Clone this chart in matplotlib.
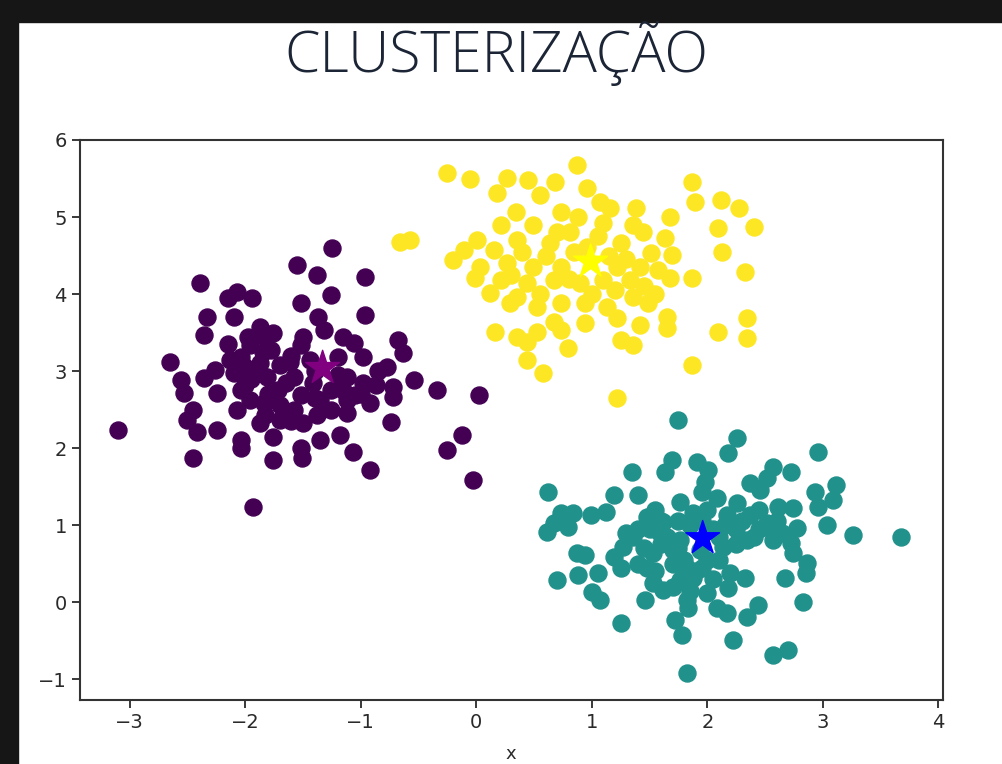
"""
plot.py

Scatter plot of three k-means clusters with their centroids,
drawn on a slide titled "CLUSTERIZAÇÃO".
"""

import matplotlib
matplotlib.use("Agg")
import matplotlib.pyplot as plt
from matplotlib.patches import Rectangle

# cluster 0 (purple)
purple_x = [-1.25, -1.55, -1.38, -0.96, -2.39, -2.07, -1.94, -2.15, -1.26, -1.52,
            -0.96, -2.33, -2.10, -1.37, -2.36, -1.87, -1.76, -1.98, -1.50, -1.32,
            -1.15, -0.68, -1.06, -0.63, -2.65, -2.04, -1.87, -1.61, -0.98, -0.77,
            -1.20, -2.56, -2.36, -2.10, -1.81, -1.58, -1.41, -1.12, -0.98, -0.54,
            -0.72, -0.34, 0.02, -2.53, -2.24, -2.04, -1.72, -0.72, -1.12, -0.92,
            -2.45, -2.07, -1.84, -1.58, -1.38, -1.12, -2.50, -1.87, -1.50, -0.74,
            -3.10, -2.42, -2.24, -2.04, -1.76, -1.35, -1.18, -0.12, -2.04, -1.52,
            -0.25, -2.45, -1.76, -1.51, -1.07, -0.92, -0.03, -1.93,
            -1.96, -1.91, -1.78, -1.70, -2.00, -1.52, -1.44, -1.26, -1.70, -1.96,
            -1.83, -1.26, -1.05, -0.87, -1.52, -2.13, -2.26, -1.70, -1.35,
            -2.00, -1.85, -1.95, -1.65, -1.60, -1.80, -1.40, -1.20, -1.15, -1.40,
            -1.60, -2.15, -1.85, -0.85, -1.00]
purple_y = [4.60, 4.38, 4.25, 4.22, 4.14, 4.03, 3.95, 3.95, 3.99, 3.88,
            3.73, 3.70, 3.70, 3.70, 3.47, 3.57, 3.49, 3.44, 3.44, 3.53,
            3.44, 3.40, 3.36, 3.23, 3.12, 3.18, 3.10, 3.12, 3.18, 3.05,
            3.18, 2.88, 2.91, 2.97, 2.92, 2.92, 2.84, 2.92, 2.84, 2.88,
            2.79, 2.75, 2.69, 2.71, 2.71, 2.75, 2.75, 2.66, 2.62, 2.58,
            2.49, 2.49, 2.58, 2.49, 2.43, 2.45, 2.36, 2.32, 2.32, 2.34,
            2.23, 2.21, 2.23, 2.10, 2.14, 2.10, 2.17, 2.17, 2.00, 2.00,
            1.97, 1.87, 1.84, 1.87, 1.95, 1.71, 1.58, 1.23,
            3.34, 3.01, 3.27, 3.08, 2.82, 2.69, 3.14, 2.75, 2.56, 2.62,
            2.43, 2.49, 2.69, 2.82, 3.34, 3.14, 3.01, 2.36, 2.62,
            3.05, 3.25, 2.90, 2.85, 3.20, 2.70, 3.00, 2.95, 2.75, 2.65,
            2.35, 3.35, 3.45, 3.00, 2.70]

# cluster 1 (teal)
teal_x = [1.75, 2.26, 2.18, 2.96, 1.69, 1.63, 1.91, 2.01, 1.35, 0.62,
          1.19, 1.40, 1.98, 1.95, 2.37, 2.46, 2.57, 2.72, 2.52, 2.93,
          3.11, 3.09, 2.96, 1.76, 2.08, 2.26, 2.61, 2.74, 0.73, 0.84,
          0.99, 1.12, 0.67, 0.61, 0.79, 1.48, 1.62, 1.88, 2.17, 2.37,
          2.52, 2.78, 3.04, 3.26, 3.68, 1.36, 1.59, 1.76, 2.14, 2.34,
          2.57, 2.72, 1.27, 1.53, 1.70, 1.94, 2.74, 2.86, 0.87, 0.94,
          1.19, 1.25, 1.48, 1.82, 2.00, 0.70, 0.88, 1.05, 2.20, 2.33,
          2.67, 2.85, 1.53, 1.76, 1.88, 2.18, 1.00, 1.07, 1.46, 1.62,
          1.82, 2.00, 2.08, 1.83, 2.17, 2.34, 2.44, 2.83, 1.25, 1.72,
          1.78, 2.22, 2.57, 2.70, 1.82,
          1.85, 2.05, 2.25, 2.45, 1.65, 2.10, 1.90, 1.70, 2.45, 2.00,
          1.45, 2.60, 1.55, 1.85, 2.05,
          1.50, 1.60, 1.75, 1.95, 2.15, 2.30, 2.40, 2.25, 2.10, 1.75,
          1.60, 1.40, 1.30, 1.80, 1.95, 2.55, 2.65, 1.70, 1.55, 1.40]
teal_y = [2.36, 2.13, 1.94, 1.95, 1.84, 1.69, 1.82, 1.71, 1.69, 1.43,
          1.39, 1.39, 1.56, 1.43, 1.55, 1.45, 1.75, 1.69, 1.61, 1.43,
          1.52, 1.32, 1.23, 1.30, 1.35, 1.29, 1.23, 1.22, 1.16, 1.16,
          1.13, 1.17, 1.03, 0.91, 0.97, 1.10, 1.04, 1.16, 1.13, 1.13,
          1.03, 0.96, 1.00, 0.87, 0.84, 0.84, 0.90, 0.81, 0.71, 0.81,
          0.81, 0.77, 0.71, 0.64, 0.68, 0.68, 0.64, 0.51, 0.64, 0.61,
          0.58, 0.45, 0.44, 0.45, 0.55, 0.29, 0.35, 0.38, 0.38, 0.32,
          0.31, 0.38, 0.25, 0.29, 0.32, 0.18, 0.13, 0.03, 0.03, 0.16,
          0.03, 0.12, -0.08, -0.08, -0.14, -0.19, -0.04, 0.00, -0.27, -0.23,
          -0.43, -0.49, -0.69, -0.62, -0.92,
          1.00, 0.95, 0.95, 0.95, 0.85, 0.55, 0.40, 0.50, 1.20, 1.20,
          0.70, 1.05, 1.20, 0.15, 0.30,
          0.95, 1.05, 1.05, 1.05, 1.00, 1.05, 0.85, 0.75, 0.85, 0.70,
          0.75, 0.95, 0.90, 0.55, 0.45, 0.95, 0.90, 0.20, 0.40, 0.50]

# cluster 2 (yellow)
yellow_x = [-0.25, -0.05, 0.27, 0.18, 0.45, 0.55, 0.68, 0.87, 0.96, 1.07,
            1.16, 1.38, 1.87, 1.89, 2.12, 2.27, 2.40, 2.09, 1.68, 2.13,
            2.33, -0.57, -0.66, 0.73, 0.88, 0.34, 0.21, 0.49, 0.81, 1.10,
            1.36, 1.44, 1.63, 1.69, 0.01, -0.11, -0.20, 0.15, 0.35, 0.64,
            0.96, 1.25, 1.51, 0.03, 0.27, 0.49, 0.73, 1.22, 1.42, 1.57,
            -0.01, 0.21, 0.44, 0.67, 0.90, 1.10, 1.33, 1.68, 1.87, 0.12,
            0.29, 0.53, 0.73, 0.94, 1.13, 1.36, 1.49, 0.35, 1.22, 0.94,
            0.67, 1.42, 1.65, 1.65, 0.16, 0.35, 0.53, 0.73, 0.79, 0.44,
            0.44, 1.25, 1.36, 2.09, 2.34, 2.34, 1.87, 0.58, 1.22,
            0.85, 1.15, 1.30, 0.60, 0.40, 0.80, 1.20, 1.45, 0.55, 1.00,
            0.30, 1.55, 1.05, 0.70]
yellow_y = [5.57, 5.49, 5.51, 5.31, 5.48, 5.29, 5.45, 5.68, 5.38, 5.19,
            5.12, 5.12, 5.45, 5.19, 5.22, 5.12, 4.87, 4.86, 5.00, 4.55,
            4.29, 4.70, 4.68, 5.06, 5.00, 5.06, 4.90, 4.90, 4.81, 4.92,
            4.90, 4.81, 4.73, 4.51, 4.70, 4.57, 4.44, 4.57, 4.70, 4.66,
            4.61, 4.66, 4.53, 4.35, 4.40, 4.35, 4.35, 4.35, 4.35, 4.31,
            4.21, 4.18, 4.14, 4.18, 4.14, 4.18, 4.18, 4.21, 4.21, 4.01,
            3.88, 3.83, 3.88, 3.88, 3.83, 3.96, 3.88, 3.96, 3.69, 3.62,
            3.64, 3.60, 3.70, 3.56, 3.51, 3.44, 3.51, 3.53, 3.30, 3.38,
            3.14, 3.40, 3.34, 3.51, 3.69, 3.43, 3.08, 2.97, 2.65,
            4.55, 4.50, 4.45, 4.50, 4.55, 4.20, 4.05, 4.10, 4.00, 4.00,
            4.25, 4.00, 4.75, 4.80]

# centroids
centroid_x = [-1.33, 1.96, 0.99]
centroid_y = [3.04, 0.83, 4.42]
centroid_colors = ["purple", "blue", "yellow"]

cluster_colors = ["#440154", "#21918c", "#fde725"]


def plot():
    fig = plt.figure(figsize=(10.02, 7.64), dpi=100, facecolor="white")

    # dark slide frame on the top and left edges
    fig.patches.append(Rectangle((0, 1 - 22 / 764), 1, 22 / 764,
                                 transform=fig.transFigure, color="#161616", zorder=0))
    fig.patches.append(Rectangle((0, 0), 18 / 1002, 1,
                                 transform=fig.transFigure, color="#161616", zorder=0))

    fig.text(0.495, 1 - 53 / 764, "CLUSTERIZAÇÃO", ha="center", va="center",
             fontsize=41, color="#1c2536", family="Open Sans", fontweight="light")

    ax = fig.add_axes([80 / 1002, 1 - 700 / 764, 863 / 1002, 560 / 764])

    clusters = [(purple_x, purple_y), (teal_x, teal_y), (yellow_x, yellow_y)]
    for (xs, ys), color in zip(clusters, cluster_colors):
        ax.scatter(xs, ys, s=150, color=color, zorder=2)

    ax.scatter(centroid_x, centroid_y, marker="*", s=650,
               c=centroid_colors, zorder=3)

    ax.set_xlim(-3.43, 4.04)
    ax.set_ylim(-1.27, 6.0)
    ax.set_xticks([-3, -2, -1, 0, 1, 2, 3, 4])
    ax.set_yticks([-1, 0, 1, 2, 3, 4, 5, 6])
    ax.set_xticklabels(["\u22123", "\u22122", "\u22121", "0", "1", "2", "3", "4"])
    ax.set_yticklabels(["\u22121", "0", "1", "2", "3", "4", "5", "6"])
    ax.tick_params(labelsize=14, length=6, width=1.3, colors="#2a2a2a")
    for spine in ax.spines.values():
        spine.set_color("#333333")
        spine.set_linewidth(1.5)

    # x label at the very bottom of the slide
    fig.text(511 / 1002, 1 / 764, "x", ha="center", va="bottom",
             fontsize=13, color="#2a2a2a")

    fig.savefig("out.png", dpi=100, facecolor=fig.get_facecolor())


plot()
